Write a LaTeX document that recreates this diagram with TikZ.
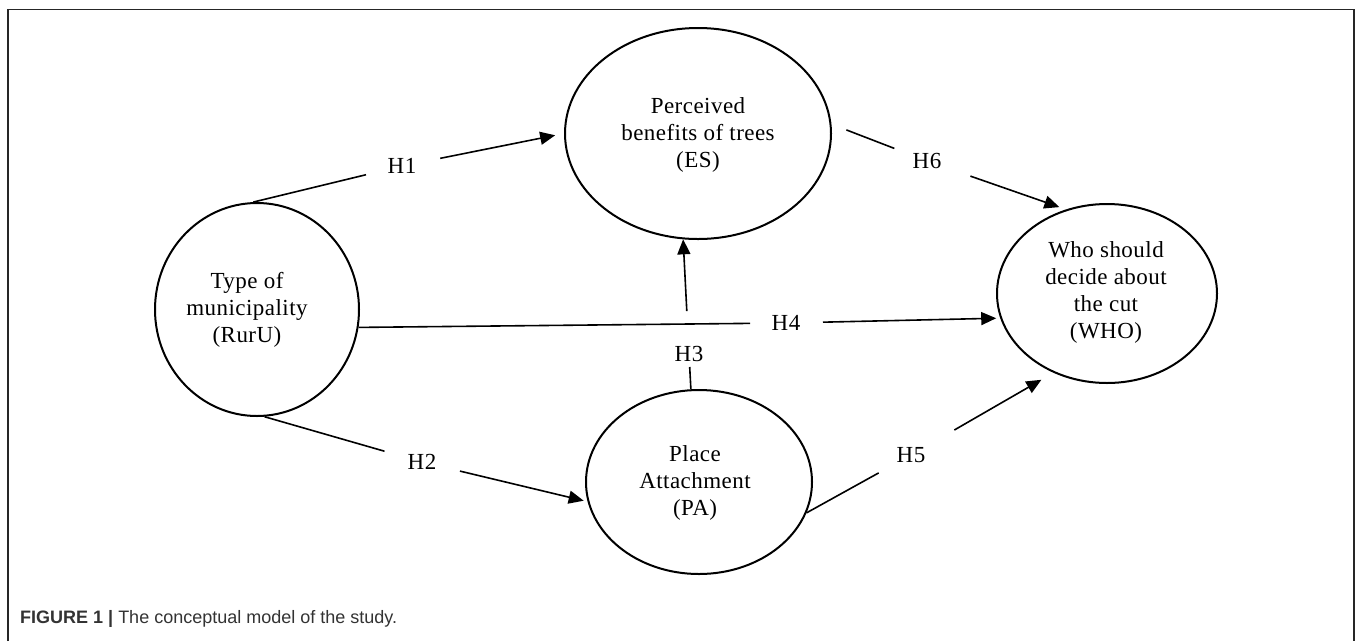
\documentclass[tikz,border=0pt]{standalone}
\usepackage{fontspec}
\setmainfont{Liberation Serif}[LetterSpace=2]
\newfontfamily\capfont{Liberation Sans}
\usetikzlibrary{arrows.meta,shapes.geometric}
\definecolor{capgray}{HTML}{333333}
\begin{document}
\begin{tikzpicture}[x=1pt,y=-1pt,
  var/.style={ellipse, draw, line width=2pt, inner sep=0pt},
  txt/.style={font=\fontsize{23}{27}\selectfont, align=center, inner sep=0pt},
  conn/.style={line width=1.6pt},
  arr/.style={conn, -{Triangle[length=15pt,width=13pt]}}
]
\useasboundingbox (0,0) rectangle (1358,641);
\draw[line width=1.3pt, black!85] (8,641) -- (8,9.5) -- (1354,9.5) -- (1354,641);

% variables
\node[var, minimum width=204pt, minimum height=213pt] (rur) at (257,309.5) {};
\node[var, minimum width=266pt, minimum height=211pt] (es) at (698,133.5) {};
\node[var, minimum width=226pt, minimum height=184pt] (pa) at (699,482) {};
\node[var, minimum width=220pt, minimum height=179pt] (who) at (1107,293.5) {};

\node[txt] (rurt) at (247,310) {Type of\\municipality\\(RurU)};
\node[txt] (est) at (698,135) {Perceived\\benefits of trees\\(ES)};
\node[txt] (pat) at (695,483) {Place\\Attachment\\(PA)};
\node[txt] (whot) at (1106,292.5) {Who should\\decide about\\the cut\\(WHO)};

% hypothesis labels
\node[txt] (h1) at (402,166) {H1};
\node[txt] (h2) at (422,462) {H2};
\node[txt] (h3) at (689,354) {H3};
\node[txt] (h4) at (786,323) {H4};
\node[txt] (h5) at (911,455) {H5};
\node[txt] (h6) at (927,161) {H6};

% connectors
\draw[conn, shorten >=37pt] (rur.92) -- (h1.center);
\draw[arr, shorten <=39pt, shorten >=9pt] (h1.center) -- (es.west);

\draw[conn, shorten >=39pt] (rur.274) -- (h2.center);
\draw[arr, shorten <=39pt, shorten >=4pt] (h2.center) -- (pa.190);

\draw[conn, shorten >=13pt] (pa.95) -- (h3.center);
\draw[arr, shorten <=43pt] (h3.center) -- (es.262);

\draw[conn, shorten >=36pt] (rur.-10.8) -- (h4.center);
\draw[arr, shorten <=37pt, shorten >=4pt] (h4.center) -- (who.193);

\draw[conn, shorten >=37pt] (pa.344) -- (h5.center);
\draw[arr, shorten <=50pt, shorten >=14pt] (h5.center) -- (who.236);

\draw[conn, shorten <=16pt, shorten >=35pt] (es.4) -- (h6.center);
\draw[arr, shorten <=46pt, shorten >=7pt] (h6.center) -- (who.116.7);

% caption
\node[anchor=base west, inner sep=0pt, text=capgray, font=\capfont\fontsize{18}{21}\selectfont] (cap) at (20,623) {\textbf{FIGURE 1 |} The conceptual model of the study.};
\end{tikzpicture}
\end{document}
